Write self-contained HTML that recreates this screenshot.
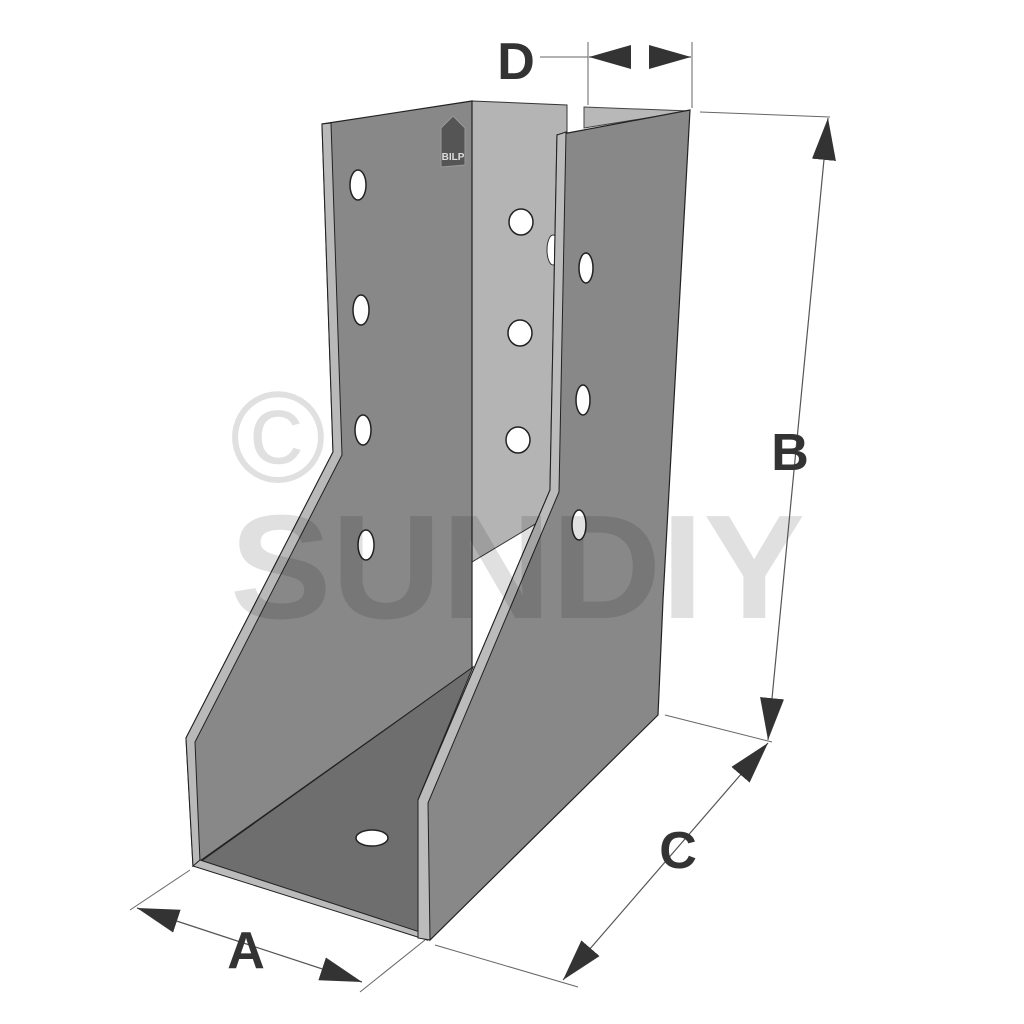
<!DOCTYPE html>
<html><head><meta charset="utf-8"><style>html,body{margin:0;padding:0;background:#fff}svg{display:block}</style></head>
<body>
<svg width="1024" height="1024" viewBox="0 0 1024 1024" xmlns="http://www.w3.org/2000/svg">
<defs>
<marker id="ah" markerUnits="userSpaceOnUse" markerWidth="42" markerHeight="24" refX="42" refY="12" orient="auto-start-reverse">
<path d="M0,0 L42,12 L0,24 Z" fill="#333"/>
</marker>
</defs>
<rect width="1024" height="1024" fill="#fff"/>

<!-- light back panel -->
<polygon points="472,101 567,105 567,505 472,562" fill="#b4b4b4" stroke="#333" stroke-width="1"/>
<polygon points="584,107 690,111 584,128" fill="#b8b8b8" stroke="#444" stroke-width="1"/>
<ellipse cx="553" cy="250" rx="6" ry="15" fill="#fff" stroke="#333"/>
<!-- left plate -->
<polygon points="322,124 472,101 472,668 193,866 186,738 333,452" fill="#888" stroke="#222" stroke-width="1.2"/>
<polygon points="322,124 331,123 342,455 195,742 200,862 193,866 186,738 333,452" fill="#b9b9b9" stroke="#222" stroke-width="1"/>
<!-- floor -->
<polygon points="200,862 473,667 420,795 420,935" fill="#6e6e6e" stroke="#222" stroke-width="1"/>
<!-- front bottom strip -->
<polygon points="193,866 200,860 420,932 427,940" fill="#bbb" stroke="#222" stroke-width="1"/>
<!-- right plate -->
<polygon points="557,135 690,110 663,600 658,715 430,940 418,800 550,490" fill="#888" stroke="#222" stroke-width="1.2"/>
<polygon points="557,135 566,132 559,492 428,803 430,940 418,938 418,800 550,490" fill="#bbb" stroke="#222" stroke-width="1"/>

<!-- holes -->
<g fill="#fff" stroke="#222" stroke-width="1.5">
<ellipse cx="358" cy="185" rx="8" ry="15"/>
<ellipse cx="361" cy="310" rx="8" ry="15"/>
<ellipse cx="363" cy="430" rx="8" ry="15"/>
<ellipse cx="366" cy="545" rx="8" ry="15"/>
<ellipse cx="521" cy="222" rx="12" ry="13"/>
<ellipse cx="520" cy="333" rx="12" ry="13"/>
<ellipse cx="518" cy="440" rx="12" ry="13"/>
<ellipse cx="586" cy="268" rx="7" ry="15"/>
<ellipse cx="583" cy="400" rx="7" ry="15"/>
<ellipse cx="579" cy="525" rx="7" ry="15"/>
<ellipse cx="372" cy="838" rx="16" ry="8"/>
</g>
<!-- BILP badge -->
<path d="M441,128 L453,116 L465,128 L465,165 L441,167 Z" fill="#555" stroke="#999" stroke-width="1"/>
<text x="453" y="160" font-family="Liberation Sans, sans-serif" font-size="10" font-weight="bold" fill="#ddd" text-anchor="middle">BILP</text>

<!-- watermark -->
<g fill="rgba(0,0,0,0.12)">
<text x="230" y="618" font-family="Liberation Sans, sans-serif" font-weight="bold" font-size="148" textLength="575" lengthAdjust="spacingAndGlyphs">SUNDIY</text>
<text x="278" y="482" font-family="Liberation Sans, sans-serif" font-size="130" text-anchor="middle">©</text>
</g>

<!-- dimension lines -->
<g stroke="#666" stroke-width="1" fill="none">
<line x1="588" y1="42" x2="588" y2="105"/>
<line x1="692" y1="42" x2="692" y2="108"/>
<line x1="540" y1="57" x2="588" y2="57"/>
<line x1="700" y1="112" x2="830" y2="117"/>
<line x1="665" y1="715" x2="772" y2="742"/>
<line x1="435" y1="945" x2="578" y2="987"/>
<line x1="190" y1="870" x2="130" y2="910"/>
<line x1="425" y1="940" x2="360" y2="992"/>
</g>
<g stroke="#555" stroke-width="1.2" fill="none">
<line x1="630" y1="57" x2="589" y2="57" marker-end="url(#ah)"/>
<line x1="650" y1="57" x2="691" y2="57" marker-end="url(#ah)"/>
<line x1="828" y1="118" x2="768" y2="740" marker-start="url(#ah)" marker-end="url(#ah)"/>
<line x1="768" y1="743" x2="563" y2="980" marker-start="url(#ah)" marker-end="url(#ah)"/>
<line x1="137" y1="908" x2="362" y2="982" marker-start="url(#ah)" marker-end="url(#ah)"/>
</g>
<g fill="#333" font-family="Liberation Sans, sans-serif" font-weight="bold" font-size="52" text-anchor="middle">
<text x="516" y="79">D</text>
<text x="790" y="470">B</text>
<text x="678" y="868">C</text>
<text x="246" y="968">A</text>
</g>
</svg>
</body></html>
